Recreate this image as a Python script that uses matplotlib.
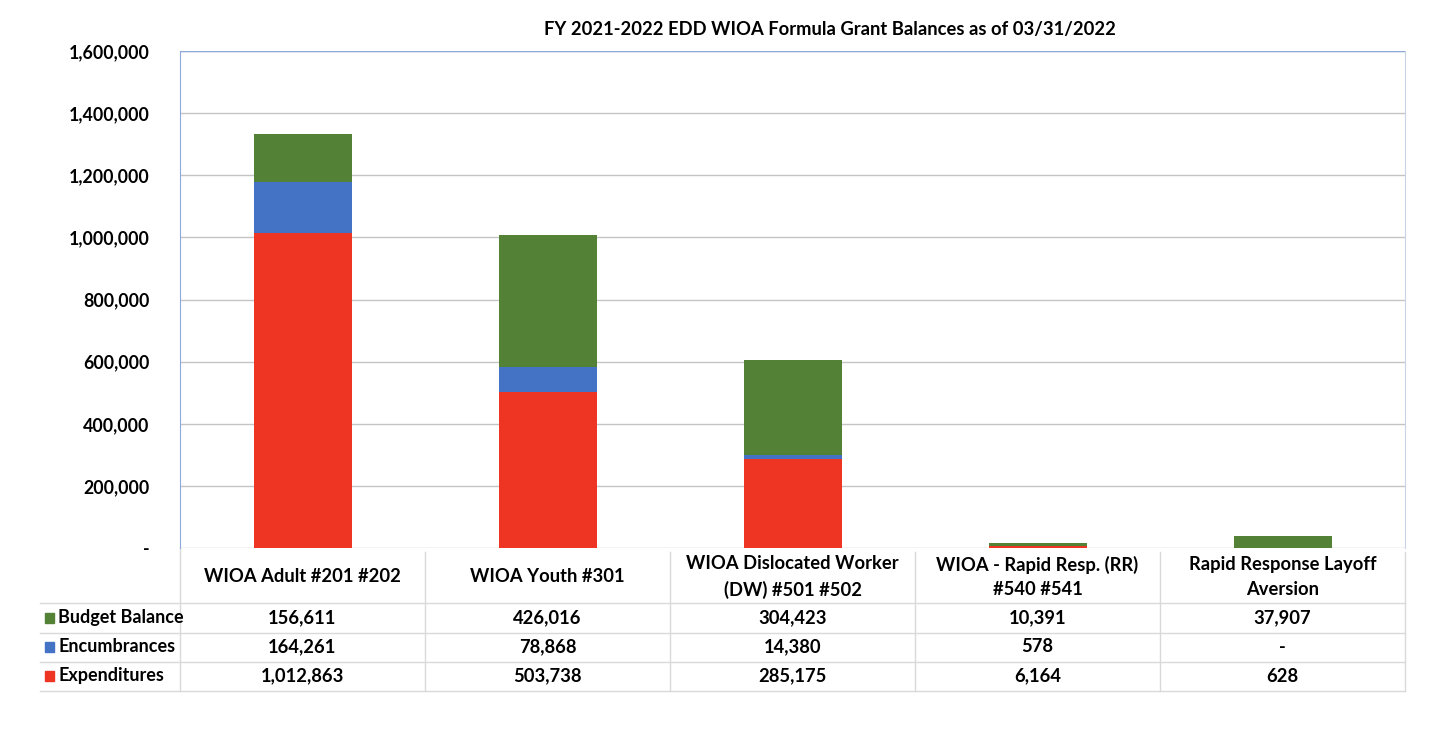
import matplotlib.pyplot as plt
import matplotlib.transforms as mtransforms
from matplotlib.patches import Rectangle
import numpy as np

plt.rcParams['font.family'] = ['Lato', 'DejaVu Sans']
plt.rcParams['font.weight'] = 'bold'

# Data
categories = ['WIOA Adult #201 #202', 'WIOA Youth #301', 'WIOA Dislocated Worker\n(DW) #501 #502',
              'WIOA - Rapid Resp. (RR)\n#540 #541', 'Rapid Response Layoff\nAversion']
expenditures = [1012863, 503738, 285175, 6164, 628]
encumbrances = [164261, 78868, 14380, 578, 0]
budget_balance = [156611, 426016, 304423, 10391, 37907]

series_names = ['Budget Balance', 'Encumbrances', 'Expenditures']
colors = {'Expenditures': '#EE3524', 'Encumbrances': '#4472C4', 'Budget Balance': '#538135'}

W, H = 1435, 734
fig = plt.figure(figsize=(W / 100, H / 100), dpi=100)
ax = fig.add_axes([180 / W, 1 - 548 / H, (1405 - 180) / W, (548 - 51) / H])

x = np.arange(len(categories))
bw = 0.4
ax.bar(x, expenditures, bw, color=colors['Expenditures'], zorder=3)
ax.bar(x, encumbrances, bw, bottom=expenditures, color=colors['Encumbrances'], zorder=3)
bottom2 = np.array(expenditures) + np.array(encumbrances)
ax.bar(x, budget_balance, bw, bottom=bottom2, color=colors['Budget Balance'], zorder=3)

ax.set_xlim(-0.5, len(categories) - 0.5)
ax.set_ylim(0, 1600000)
yt = np.arange(0, 1600001, 200000)
ax.set_yticks(yt)
ax.set_yticklabels(['-'] + [f'{v:,}' for v in yt[1:]], fontsize=12.8, fontweight='bold')
ax.tick_params(axis='y', length=0, pad=22)
ax.set_xticks([])
ax.grid(axis='y', color='#C4C4C4', linewidth=1, zorder=0)
for s in ['top', 'bottom']:
    ax.spines[s].set_visible(False)
ax.spines['left'].set_color('#8EA9DB')
ax.spines['right'].set_color('#C9D3E8')
ax.axhline(1600000, color='#8EA9DB', linewidth=1, zorder=2)

fig.text(830 / W, 1 - 30 / H, 'FY 2021-2022 EDD WIOA Formula Grant Balances as of 03/31/2022',
         ha='center', va='center', fontsize=13.2, fontweight='bold')

# Data table below the chart
trans = mtransforms.blended_transform_factory(ax.transData, fig.transFigure)
def fy(py):
    return 1 - py / H

line_c = '#D9D9D9'
for yy in [603, 633, 662, 691]:
    fig.add_artist(plt.Line2D([40 / W, 1405 / W], [fy(yy), fy(yy)], color=line_c, lw=1))
for i in range(len(categories) + 1):
    top = 548 if i == 0 else 552
    ax.plot([i - 0.5, i - 0.5], [fy(top), fy(691)], color=line_c, lw=1,
            transform=trans, clip_on=False)

for i, c in enumerate(categories):
    ax.text(i, fy(577), c, transform=trans, ha='center', va='center',
            fontsize=13.2, fontweight='bold', linespacing=1.55)

rows = {'Budget Balance': budget_balance, 'Encumbrances': encumbrances, 'Expenditures': expenditures}
row_y = [618, 647, 676]
for name, yy in zip(series_names, row_y):
    fig.add_artist(Rectangle((45 / W, fy(yy + 5)), 9 / W, 10 / H, color=colors[name],
                             transform=fig.transFigure))
    fig.text(58 / W, fy(yy), name, ha='left', va='center', fontsize=13, fontweight='bold')
    for i, v in enumerate(rows[name]):
        lab = f'{v:,}' if v else '-'
        ax.text(i, fy(yy), lab, transform=trans, ha='center', va='center',
                fontsize=13.2, fontweight='bold')

fig.savefig('out.png', dpi=100)
